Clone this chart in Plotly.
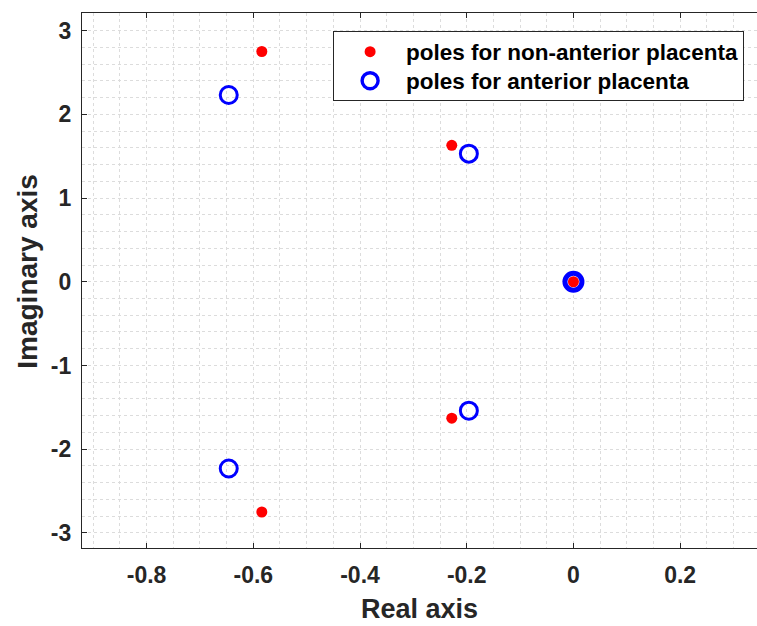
import plotly.graph_objects as go

# Pole locations (real, imaginary)
non_anterior_re = [-0.584, -0.228, 0.0, -0.228, -0.584]
non_anterior_im = [2.75, 1.63, 0.0, -1.63, -2.75]

anterior_re = [-0.646, -0.196, 0.0, -0.196, -0.646]
anterior_im = [2.23, 1.53, 0.0, -1.54, -2.23]
# the origin pole is a repeated root, drawn with a heavier ring
anterior_ring = [3, 3, 5, 3, 3]

x_ticks = [-0.8, -0.6, -0.4, -0.2, 0, 0.2]
x_tick_text = ["-0.8", "-0.6", "-0.4", "-0.2", "0", "0.2"]
y_ticks = [-3, -2, -1, 0, 1, 2, 3]
y_tick_text = ["-3", "-2", "-1", "0", "1", "2", "3"]

axis_color = "#262626"
grid_color = "#dcdcdc"
font_family = "Liberation Sans, Arial, sans-serif"


def legend_label(text):
    # larger glyphs than the legend's nominal font keep the rows compact
    return f'<span style="font-size:22.5px"><b>{text}</b></span>'


fig = go.Figure()
fig.add_trace(go.Scatter(
    x=non_anterior_re, y=non_anterior_im, mode="markers",
    name=legend_label("poles for non-anterior placenta"),
    legendgroup="a",
    marker=dict(symbol="circle", size=11, color="#ff0000", line=dict(width=0)),
))
fig.add_trace(go.Scatter(
    x=anterior_re, y=anterior_im, mode="markers",
    name=legend_label("poles for anterior placenta"),
    legendgroup="b",
    marker=dict(symbol="circle-open", size=17, color="#0000ff",
                line=dict(width=anterior_ring, color="#0000ff")),
))

axis_common = dict(
    showline=True, linecolor=axis_color, linewidth=1.2,
    ticks="inside", ticklen=5, tickcolor=axis_color, tickwidth=1,
    showgrid=True, gridcolor=grid_color, griddash="dot", gridwidth=1,
    zeroline=False,
    tickfont=dict(family=font_family, size=23, color=axis_color, weight="bold"),
)

fig.update_layout(
    width=757, height=626,
    margin=dict(l=82, r=0, t=13, b=78),
    paper_bgcolor="white", plot_bgcolor="white",
    font=dict(family=font_family, color=axis_color),
    showlegend=True,
    legend=dict(
        x=0.372, y=0.966, xanchor="left", yanchor="top",
        bgcolor="white", bordercolor=axis_color, borderwidth=1,
        font=dict(family=font_family, size=20, color="#000000"),
        traceorder="grouped", tracegroupgap=0,
        itemwidth=62,
    ),
    xaxis=dict(
        range=[-0.921, 0.344],
        tickvals=x_ticks, ticktext=x_tick_text,
        mirror="ticks",
        ticklabelstandoff=6,
        minor=dict(dtick=0.05, tick0=0, showgrid=True, gridcolor=grid_color,
                   griddash="dot", gridwidth=1, ticks=""),
        **axis_common,
    ),
    yaxis=dict(
        range=[-3.18, 3.21],
        tickvals=y_ticks, ticktext=y_tick_text,
        ticklabelstandoff=5,
        minor=dict(dtick=0.2, tick0=0, showgrid=True, gridcolor=grid_color,
                   griddash="dot", gridwidth=1, ticks=""),
        **axis_common,
    ),
    annotations=[
        dict(text="<b>Real axis</b>", xref="paper", yref="paper",
             x=0.5, y=-0.114, xanchor="center", yanchor="middle",
             showarrow=False,
             font=dict(family=font_family, size=27, color=axis_color)),
        dict(text="<b>Imaginary axis</b>", xref="paper", yref="paper",
             x=-0.081, y=0.517, xanchor="center", yanchor="middle",
             textangle=-90, showarrow=False,
             font=dict(family=font_family, size=28, color=axis_color)),
    ],
)

fig.write_html("out.html")
